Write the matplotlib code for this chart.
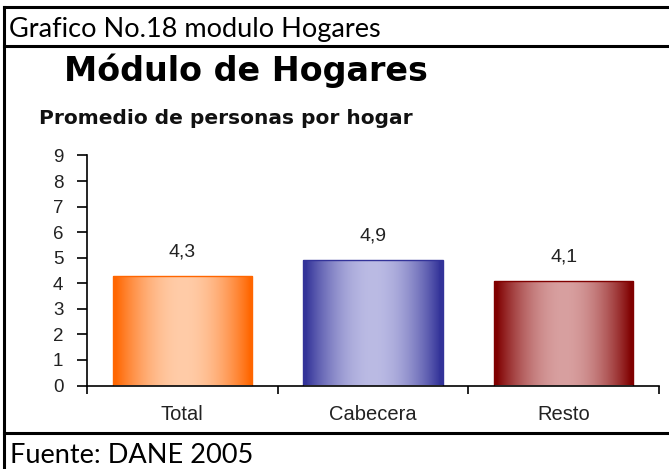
import numpy as np
import matplotlib
matplotlib.use('Agg')
import matplotlib.pyplot as plt
from matplotlib.lines import Line2D
from matplotlib.colors import to_rgb

# data
categorias = ['Total', 'Cabecera', 'Resto']
promedio = [4.3, 4.9, 4.1]
etiquetas = ['4,3', '4,9', '4,1']
color_borde = ['#FF6600', '#333399', '#800000']
color_centro = ['#FFCCA8', '#BBBBE4', '#D8A0A0']

plt.rcParams['font.family'] = ['Liberation Sans', 'DejaVu Sans']

fig = plt.figure(figsize=(6.69, 4.69), dpi=100)
W, H = 669, 469

def fx(px):
    return px / W

def fy(py):
    return 1 - py / H

# frame lines
lw = 2.2
for (x0, y0, x1, y1) in [(4, 7, 669, 7), (4, 46.5, 669, 46.5), (4, 433, 669, 433), (4, 7, 4, 469)]:
    fig.add_artist(Line2D([fx(x0), fx(x1)], [fy(y0), fy(y1)], color='black', lw=lw,
                          transform=fig.transFigure))

fig.text(fx(9), fy(37), 'Grafico No.18 modulo Hogares', fontsize=19.5, family='Lato',
         va='baseline', ha='left')
fig.text(fx(10), fy(463), 'Fuente: DANE 2005', fontsize=19.5, family='Lato',
         va='baseline', ha='left')
fig.text(fx(64), fy(81), 'Módulo de Hogares', fontsize=24, fontweight='bold',
         family='DejaVu Sans', va='baseline', ha='left')
fig.text(fx(39), fy(123.5), 'Promedio de personas por hogar', fontsize=14.5, fontweight='bold',
         family='DejaVu Sans', va='baseline', ha='left', color='#111111')

ax = fig.add_axes([fx(87), fy(385.5), fx(659) - fx(87), fy(155.5) - fy(385.5)])
x = np.arange(len(categorias))
bars = ax.bar(x, promedio, width=0.73, color='none', zorder=2)

t = np.linspace(0, 1, 200)
f = np.sin(np.pi * np.clip((t - 0.02) / 0.96, 0, 1)) ** 0.9
for b, c0, c1, lab in zip(bars, color_borde, color_centro, etiquetas):
    a0, a1 = np.array(to_rgb(c0)), np.array(to_rgb(c1))
    img = (a0[None, :] + (a1 - a0)[None, :] * f[:, None])[None, :, :]
    x0, w, h = b.get_x(), b.get_width(), b.get_height()
    im = ax.imshow(img, extent=[x0, x0 + w, 0, h], aspect='auto', zorder=1)
    im.set_clip_path(b)
    b.set_edgecolor(c0)
    b.set_linewidth(1)
    ax.text(x0 + w / 2, h + 0.6, lab, ha='center', va='bottom', fontsize=14, color='#222222')

ax.set_xlim(-0.5, 2.5)
ax.set_ylim(0, 9)
ax.set_yticks(range(0, 10))
ax.set_xticks([-0.5, 0.5, 1.5, 2.5])
ax.set_xticklabels([])
ax.set_xticks(x, minor=True)
ax.set_xticklabels(categorias, minor=True, fontsize=14.5, color='#222222')
ax.tick_params(axis='x', which='minor', length=0, pad=14)
ax.tick_params(axis='x', which='major', length=6, width=1.2, direction='out')
ax.tick_params(axis='y', length=7, width=1.2, direction='out', labelsize=13.5, pad=10,
               labelcolor='#222222')
for s in ['top', 'right']:
    ax.spines[s].set_visible(False)
ax.spines['left'].set_linewidth(1.2)
ax.spines['bottom'].set_linewidth(1.2)

fig.savefig('out.png', dpi=100)
